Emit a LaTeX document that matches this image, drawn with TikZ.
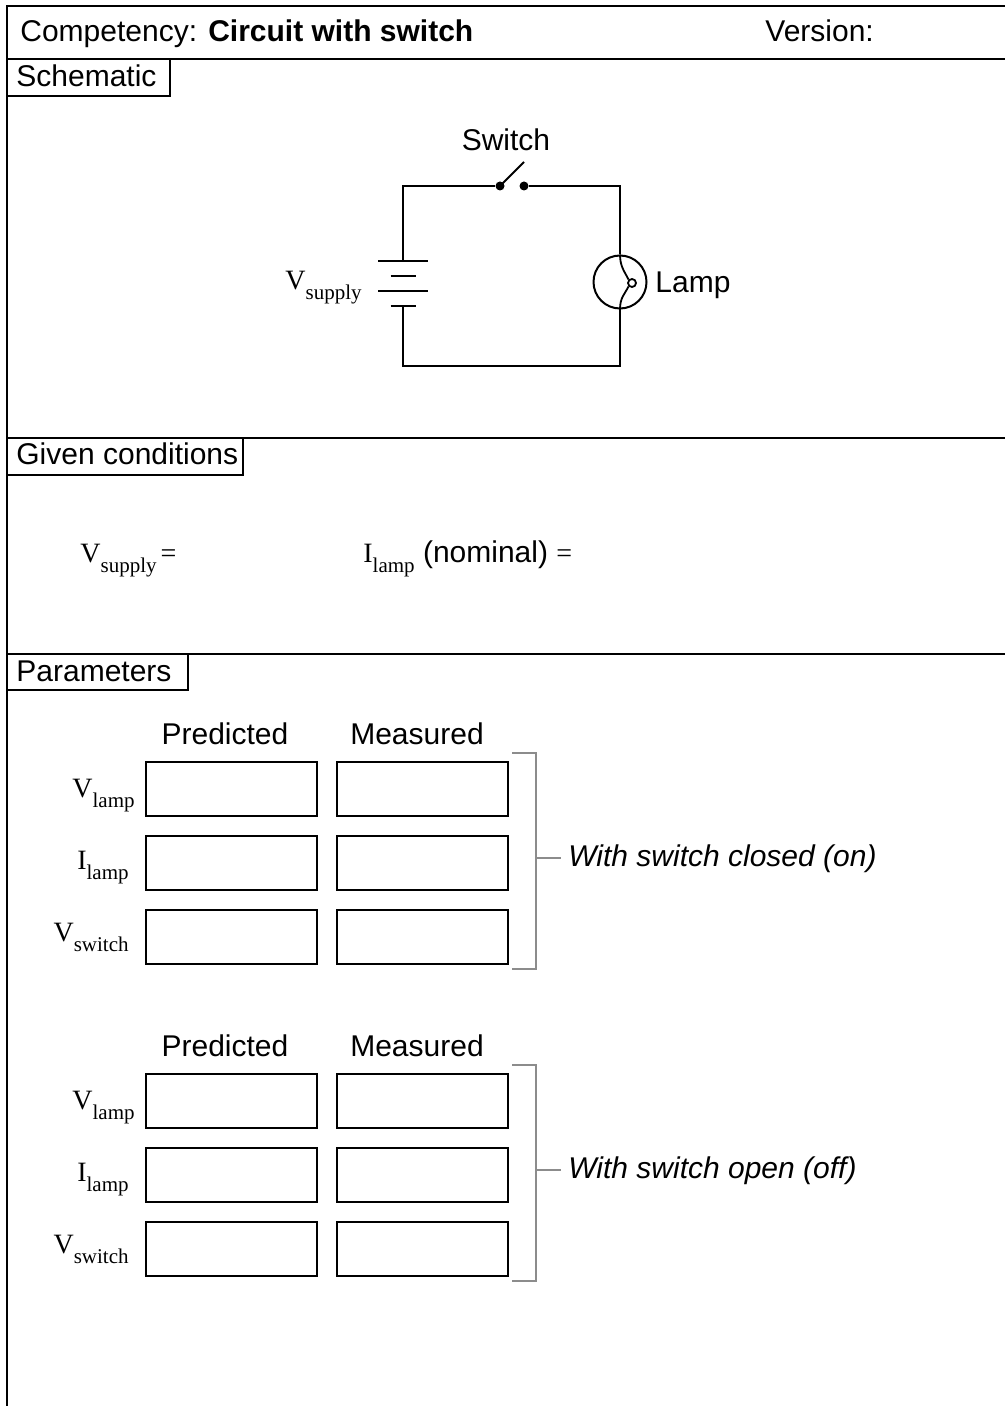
\documentclass[tikz,border=0pt]{standalone}
\usepackage{fontspec}
\setmainfont{Liberation Sans}
\newfontfamily\timesfont{Liberation Serif}
\usetikzlibrary{positioning}
\newcommand{\symb}[2]{{\timesfont\fontsize{14}{16}\selectfont #1\raisebox{-5pt}{\fontsize{10.5}{12}\selectfont #2}}}
\newcommand{\eqsign}{{\timesfont\fontsize{14}{16}\selectfont =}}

\begin{document}
\begin{tikzpicture}[x=0.5pt,y=-0.5pt,font=\fontsize{15}{18}\selectfont,
    frame/.style={line width=1.2pt},
    wire/.style={line width=1pt},
    contact/.style={circle,fill,inner sep=0pt,minimum size=4.5pt},
    cell/.style={draw,line width=1pt,minimum width=85.5pt,minimum height=27pt,inner sep=0pt},
    bracket/.style={line width=0.9pt,color=black!45},
    txt/.style={inner sep=0pt}]
      \useasboundingbox (0,0) rectangle (1005,1406);

      % frame and sections
      \draw[frame] (1005,6) -- (7,6) -- (7,1406);
      \draw[frame] (7,59)  -- (1005,59);
      \draw[frame] (7,438) -- (1005,438);
      \draw[frame] (7,654) -- (1005,654);
      \draw[frame] (7,59)  rectangle (170,96);
      \draw[frame] (7,438) rectangle (243,475);
      \draw[frame] (7,654) rectangle (188,690);

      \node (title)  [txt,anchor=base west] at (20,42)   {Competency: \textbf{Circuit with switch}};
      \node (vers)   [txt,anchor=base west] at (765,42)  {Version:};
      \node (schem)  [txt,anchor=base west] at (16,87)   {Schematic};
      \node (given)  [txt,anchor=base west] at (16,465)  {Given conditions};
      \node (params) [txt,anchor=base west] at (16,681)  {Parameters};

      % schematic
      \coordinate (tl) at (403,186);
      \coordinate (tr) at (620,186);
      \coordinate (bl) at (403,366);
      \coordinate (br) at (620,366);
      \coordinate (battop) at (403,261);
      \coordinate (batbot) at (403,306);
      \node (swa)  [contact] at (500,186) {};
      \node (swb)  [contact] at (524,186) {};
      \coordinate (lever) at (524,162);
      \node (swlabel) [txt] at (506,140) {Switch};
      \node (lamp) [draw,circle,line width=1pt,minimum size=26.5pt,inner sep=0pt] at (620,282) {};
      \node (fil)  [draw,circle,line width=0.9pt,minimum size=4pt,inner sep=0pt] at (632,283) {};
      \node (lamplabel) [txt,anchor=base west] at (655,293) {Lamp};
      \node (vsup) [txt,anchor=base east] at (362,290) {\symb{V}{supply}};

      \draw[wire] (battop) -- (tl) -- (swa);
      \draw[wire] (swa.center) -- (lever);
      \draw[wire] (swb) -- (tr) -- (lamp.north);
      \draw[wire] (lamp.south) -- (br) -- (bl) -- (batbot);
      \draw[wire] ([xshift=-12.5pt]battop) -- ([xshift=12.5pt]battop);
      \draw[wire] ([xshift=-6.25pt,yshift=-7.5pt]battop) -- ([xshift=6.25pt,yshift=-7.5pt]battop);
      \draw[wire] ([xshift=-12.5pt,yshift=7.5pt]batbot) -- ([xshift=12.5pt,yshift=7.5pt]batbot);
      \draw[wire] ([xshift=-6.25pt]batbot) -- ([xshift=6.25pt]batbot);
      \draw[line width=0.9pt] (lamp.north) .. controls +(0,12) and +(-4,-8) .. (fil.north west);
      \draw[line width=0.9pt] (fil.south west) .. controls +(-4,8) and +(0,-12) .. (lamp.south);

      % given conditions
      \node (gvsup) [txt,anchor=base west] at (80,562)  {\symb{V}{supply}\kern2pt\eqsign};
      \node (gilamp) [txt,anchor=base west] at (363,562) {\symb{I}{lamp} (nominal) \eqsign};

      % parameters, switch closed
      \node (pred1) [txt] at (225,734) {Predicted};
      \node (meas1) [txt] at (417,734) {Measured};
      \node (pv1) [cell] at (231.4,789) {};
      \node (mv1) [cell,right=8.8pt of pv1] {};
      \node (pi1) [cell,below=9pt of pv1] {};
      \node (mi1) [cell,right=8.8pt of pi1] {};
      \node (ps1) [cell,below=9pt of pi1] {};
      \node (ms1) [cell,right=8.8pt of ps1] {};
      \node (lv1) [txt,anchor=base east] at (135,797) {\symb{V}{lamp}};
      \node (li1) [txt,anchor=base east] at (129,869) {\symb{I}{lamp}};
      \node (ls1) [txt,anchor=base east] at (129,941) {\symb{V}{switch}};
      \node (closed) [txt,anchor=west,font=\fontsize{15}{18}\selectfont\itshape] at (568,859) {With switch closed (on)};
      \coordinate (tick1) at (561,858);
      \draw[bracket] (512,753) -- (536,753) -- (536,969) -- (512,969);
      \draw[bracket] (536,858) -- (tick1);

      % parameters, switch open
      \node (pred2) [txt] at (225,1046) {Predicted};
      \node (meas2) [txt] at (417,1046) {Measured};
      \node (pv2) [cell] at (231.4,1101) {};
      \node (mv2) [cell,right=8.8pt of pv2] {};
      \node (pi2) [cell,below=9pt of pv2] {};
      \node (mi2) [cell,right=8.8pt of pi2] {};
      \node (ps2) [cell,below=9pt of pi2] {};
      \node (ms2) [cell,right=8.8pt of ps2] {};
      \node (lv2) [txt,anchor=base east] at (135,1109) {\symb{V}{lamp}};
      \node (li2) [txt,anchor=base east] at (129,1181) {\symb{I}{lamp}};
      \node (ls2) [txt,anchor=base east] at (129,1253) {\symb{V}{switch}};
      \node (opened) [txt,anchor=west,font=\fontsize{15}{18}\selectfont\itshape] at (568,1171) {With switch open (off)};
      \coordinate (tick2) at (561,1170);
      \draw[bracket] (512,1065) -- (536,1065) -- (536,1281) -- (512,1281);
      \draw[bracket] (536,1170) -- (tick2);
\end{tikzpicture}
\end{document}
